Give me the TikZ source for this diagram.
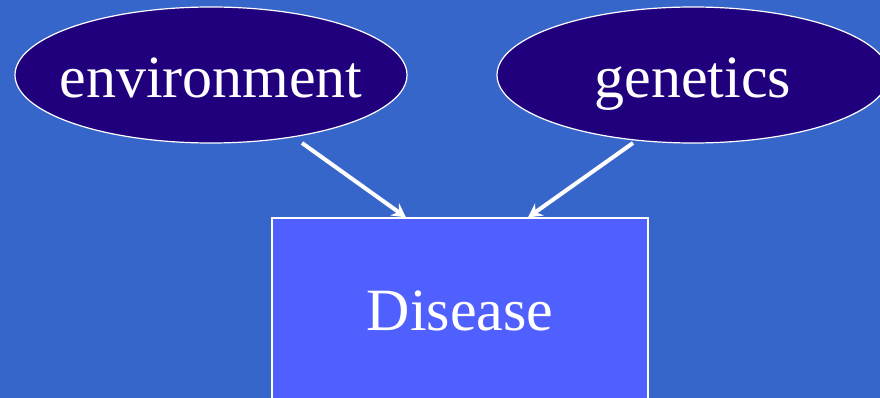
\documentclass[tikz,border=0pt]{standalone}
\usepackage{fontspec}
\setmainfont{Liberation Serif}
\usetikzlibrary{shapes.geometric,arrows.meta}

\definecolor{slideblue}{RGB}{55,102,203}
\definecolor{causefill}{RGB}{33,0,125}
\definecolor{effectfill}{RGB}{80,96,255}

\tikzset{
    cause/.style={ellipse, draw=white, line width=1.2pt, fill=causefill, text=white,
        minimum width=392pt, minimum height=136pt, inner xsep=-14pt, inner ysep=0pt,
        font=\fontsize{60}{60}\selectfont, text height=46pt, text depth=0pt},
    effect/.style={rectangle, draw=white, line width=1.2pt, fill=effectfill, text=white,
        minimum width=376pt, minimum height=238pt, inner sep=0pt,
        font=\fontsize{60}{60}\selectfont, text height=46pt, text depth=60pt},
    arr/.style={draw=white, line width=4pt, -{Stealth[length=14pt,width=15pt,inset=5pt]}}
}

\begin{document}
\begin{tikzpicture}[x=1pt, y=1pt]

    % Background (slide area)
    \fill[slideblue] (0,0) rectangle (880,-398);
    \useasboundingbox (0,0) rectangle (880,-398);

    % Causes
    \node[cause] (env) at (211,-75) {environment};
    \node[cause] (gen) at (693,-75) {genetics};

    % Effect (runs off the bottom of the slide)
    \node[effect] (dis) at (460,-337) {Disease};

    % Arrows into the box
    \draw[arr] ([xshift=91pt,yshift=-68pt]env.center) -- ([xshift=-54pt]dis.north);
    \draw[arr] ([xshift=-60pt,yshift=-68pt]gen.center) -- ([xshift=68pt]dis.north);

\end{tikzpicture}
\end{document}
